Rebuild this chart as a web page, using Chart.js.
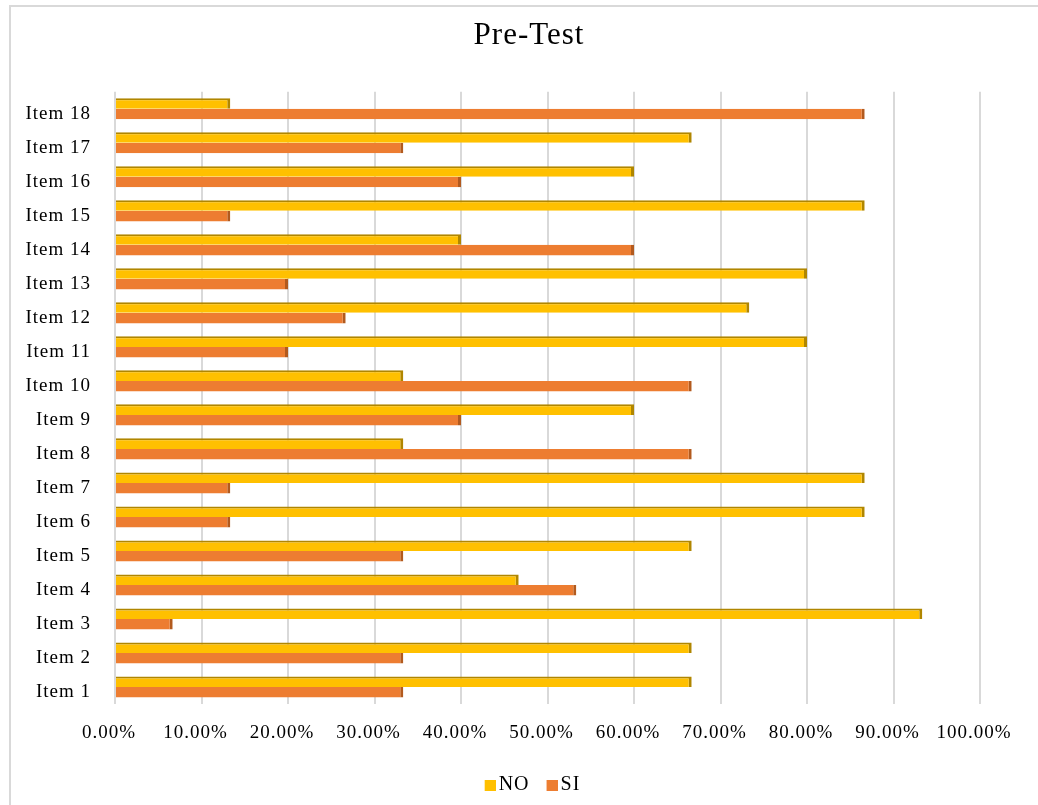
<!DOCTYPE html>
<html>
<head>
<meta charset="utf-8">
<script src="https://cdn.jsdelivr.net/npm/chart.js@4"></script>
<style>
  html, body { margin: 0; padding: 0; background: #fff; }
  #wrap { width: 1038px; height: 805px; }
</style>
</head>
<body>
<div id="wrap"><canvas id="preTestChart"></canvas></div>
<script>
var items = ['Item 1', 'Item 2', 'Item 3', 'Item 4', 'Item 5', 'Item 6', 'Item 7', 'Item 8', 'Item 9',
             'Item 10', 'Item 11', 'Item 12', 'Item 13', 'Item 14', 'Item 15', 'Item 16', 'Item 17', 'Item 18'];
var no_values = [66.67, 66.67, 93.33, 46.67, 66.67, 86.67, 86.67, 33.33, 60.00,
                 33.33, 80.00, 73.33, 80.00, 40.00, 86.67, 60.00, 66.67, 13.33];
var si_values = [33.33, 33.33, 6.67, 53.33, 33.33, 13.33, 13.33, 66.67, 40.00,
                 66.67, 20.00, 26.67, 20.00, 60.00, 13.33, 40.00, 33.33, 86.67];

Chart.defaults.font.family = "'Liberation Serif', 'Times New Roman', serif";
Chart.defaults.color = '#000';

// the source text is a bit wide, add some letter spacing
function setSpacing(chart) {
    chart.ctx.letterSpacing = '1px';
}

// legend square sitting close to its text (square on the right side of the image)
function makeLegendBox(color) {
    var c = document.createElement('canvas');
    c.width = 25;
    c.height = 11;
    var g = c.getContext('2d');
    g.fillStyle = color;
    g.fillRect(14, 0, 11, 11);
    return c;
}

// thin frame top/left like the original picture
var framePlugin = {
    id: 'frame',
    beforeLayout: setSpacing,
    beforeDraw: function (chart) {
        setSpacing(chart);
        var ctx = chart.ctx;
        ctx.save();
        ctx.strokeStyle = '#D9D9D9';
        ctx.lineWidth = 2;
        ctx.beginPath();
        ctx.moveTo(10, chart.height);
        ctx.lineTo(10, 6);
        ctx.lineTo(chart.width, 6);
        ctx.stroke();
        ctx.restore();
    }
};

var pre_test_chart = new Chart(document.getElementById('preTestChart'), {
    type: 'bar',
    data: {
        labels: items,
        datasets: [{
            label: 'NO',
            data: no_values,
            backgroundColor: '#FFC000',
            borderColor: '#B08600',
            borderWidth: { top: 2, right: 3, bottom: 0, left: 0 },
            borderSkipped: false,
            categoryPercentage: 0.62,
            barPercentage: 1.0,
        },
        {
            label: 'SI',
            data: si_values,
            backgroundColor: '#ED7D31',
            borderColor: '#B25A1E',
            borderWidth: { top: 0, right: 3, bottom: 0, left: 0 },
            borderSkipped: false,
            categoryPercentage: 0.62,
            barPercentage: 1.0,
        }]
    },
    options: {
        indexAxis: 'y',
        responsive: true,
        maintainAspectRatio: false,
        animation: false,
        layout: {
            padding: { left: 20, right: 0, top: 0, bottom: 0 }
        },
        plugins: {
            title: {
                display: true,
                text: 'Pre-Test',
                font: { size: 31, weight: 'normal' },
                padding: { top: 17, bottom: 37.6 },
            },
            legend: {
                position: 'bottom',
                labels: {
                    usePointStyle: true,
                    boxWidth: 11,
                    boxHeight: 11,
                    padding: 10,
                    font: { size: 20 },
                    generateLabels: function (chart) {
                        return chart.data.datasets.map(function (ds, i) {
                            return {
                                text: ds.label,
                                fillStyle: ds.backgroundColor,
                                strokeStyle: ds.backgroundColor,
                                lineWidth: 0,
                                pointStyle: makeLegendBox(ds.backgroundColor),
                                fontColor: '#000',
                                datasetIndex: i,
                            };
                        });
                    },
                },
            },
            tooltip: { enabled: false },
        },
        scales: {
            x: {
                min: 0,
                max: 100,
                ticks: {
                    stepSize: 10,
                    padding: 18,
                    labelOffset: -6,
                    font: { size: 19 },
                    callback: function (v) { return v.toFixed(2) + '%'; },
                },
                grid: {
                    color: '#D9D9D9',
                    lineWidth: 2,
                    drawTicks: false,
                },
                border: { display: false },
                afterFit: function (axis) { axis.height = 61; },
            },
            y: {
                reverse: true,
                ticks: {
                    padding: 24,
                    labelOffset: 5,
                    font: { size: 19 },
                },
                grid: { display: false, drawTicks: false },
                border: { display: false },
                afterFit: function (axis) { axis.width = 95; },
            },
            // empty right axis, only keeps the space on the right side
            yRight: {
                type: 'category',
                position: 'right',
                ticks: { display: false },
                grid: { display: false, drawTicks: false },
                border: { display: false },
                afterFit: function (axis) { axis.width = 58; },
            }
        }
    },
    plugins: [framePlugin]
});
</script>
</body>
</html>
